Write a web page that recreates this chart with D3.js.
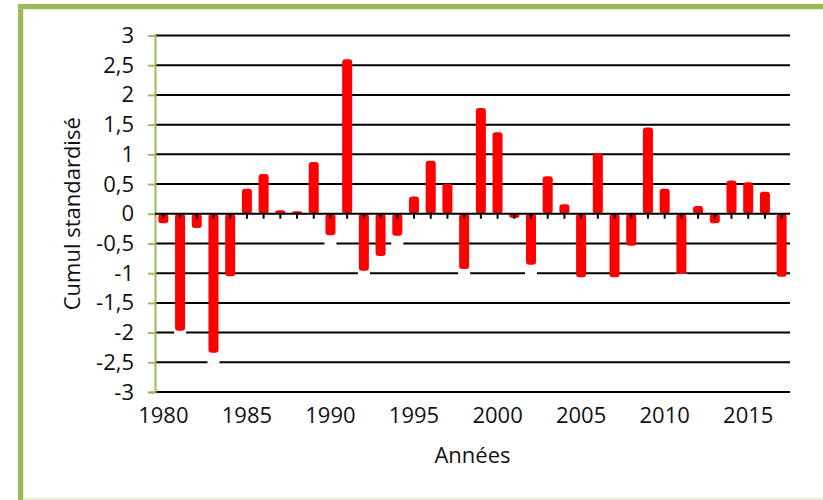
<!DOCTYPE html>
<html>
<head>
<meta charset="utf-8">
<script src="https://cdn.jsdelivr.net/npm/d3@7"></script>
<style>
  body { margin: 0; background: #fff; }
  svg { display: block; font-family: "Open Sans", sans-serif; }
  .lbl { fill: #111; font-size: 22px; }
</style>
</head>
<body>
<div id="chart"></div>
<script>
// data
var years = [1980, 1981, 1982, 1983, 1984, 1985, 1986, 1987, 1988, 1989,
             1990, 1991, 1992, 1993, 1994, 1995, 1996, 1997, 1998, 1999,
             2000, 2001, 2002, 2003, 2004, 2005, 2006, 2007, 2008, 2009,
             2010, 2011, 2012, 2013, 2014, 2015, 2016, 2017];
var values = [-0.16, -1.97, -0.24, -2.34, -1.05, 0.42, 0.67, 0.06, 0.04, 0.87,
              -0.36, 2.60, -0.96, -0.71, -0.37, 0.29, 0.89, 0.51, -0.93, 1.78,
              1.37, -0.07, -0.86, 0.63, 0.16, -1.07, 1.02, -1.07, -0.54, 1.45,
              0.42, -1.01, 0.13, -0.16, 0.56, 0.53, 0.37, -1.06];
var yTicks = [-3, -2.5, -2, -1.5, -1, -0.5, 0, 0.5, 1, 1.5, 2, 2.5, 3];
var xLabels = [1980, 1985, 1990, 1995, 2000, 2005, 2010, 2015];

var W = 823, H = 500;
var green = "#9bbb59";
var plot = {left: 155, right: 790, top: 35.5, bottom: 392};

var data = years.map(function(y, i) { return {year: y, value: values[i]}; });

var svg = d3.select("#chart").append("svg")
    .attr("width", W)
    .attr("height", H);

// frame
svg.append("rect").attr("x", 0).attr("y", 0).attr("width", W).attr("height", H).attr("fill", "#fff");
svg.append("path")
    .attr("d", "M20.5," + H + "V6.5H" + W)
    .attr("fill", "none").attr("stroke", green).attr("stroke-width", 5);
svg.append("path")
    .attr("d", "M23.5," + H + "V9.5H" + W)
    .attr("fill", "none").attr("stroke", "#e6eed6").attr("stroke-width", 1);
svg.append("line")
    .attr("x1", 23).attr("x2", W).attr("y1", 499).attr("y2", 499)
    .attr("stroke", "#e6eed6").attr("stroke-width", 2);

var x = d3.scaleBand()
    .domain(years)
    .range([plot.left, plot.right])
    .paddingInner(0.4)
    .paddingOuter(0.2);

var y = d3.scaleLinear()
    .domain([-3, 3])
    .range([plot.bottom, plot.top]);

function cx(yr) { return x(yr) + x.bandwidth() / 2; }

// gridlines
svg.append("g").selectAll("line")
    .data(yTicks.filter(function(d) { return d !== 0; }))
  .enter().append("line")
    .attr("x1", plot.left).attr("x2", plot.right)
    .attr("y1", function(d) { return y(d); })
    .attr("y2", function(d) { return y(d); })
    .attr("stroke", "#000").attr("stroke-width", 2);

// white reflection under the tips of negative bars
svg.append("g").selectAll("rect")
    .data(data.filter(function(d) { return d.value < 0; }))
  .enter().append("rect")
    .attr("x", function(d) { return x(d.year) - 1; })
    .attr("width", x.bandwidth() + 2)
    .attr("y", function(d) { return y(d.value); })
    .attr("height", 11)
    .attr("fill", "#fff");

// bars
svg.append("g").selectAll("rect")
    .data(data)
  .enter().append("rect")
    .attr("x", function(d) { return x(d.year); })
    .attr("width", x.bandwidth())
    .attr("y", function(d) { return y(Math.max(0, d.value)); })
    .attr("height", function(d) { return Math.abs(y(d.value) - y(0)); })
    .attr("rx", 3)
    .attr("fill", "#ff0000");

// y axis (green)
var yAxis = svg.append("g")
    .attr("transform", "translate(" + plot.left + ",0)")
    .call(d3.axisLeft(y).tickValues(yTicks).tickSize(7).tickPadding(14)
      .tickFormat(function(d) { return String(d).replace(".", ","); }));
yAxis.attr("font-family", null).attr("font-size", null);
yAxis.select(".domain").attr("stroke", green).attr("stroke-width", 2);
yAxis.selectAll(".tick line").attr("stroke", green).attr("stroke-width", 2);
yAxis.selectAll(".tick text")
    .attr("class", "lbl")
    .attr("fill", null);

// zero axis with ticks at each year
var zero = svg.append("g").attr("transform", "translate(0," + y(0) + ")");
zero.append("line")
    .attr("x1", plot.left).attr("x2", plot.right)
    .attr("stroke", "#000").attr("stroke-width", 2);
zero.selectAll(".tk")
    .data(years)
  .enter().append("line")
    .attr("class", "tk")
    .attr("x1", cx).attr("x2", cx)
    .attr("y1", 0).attr("y2", 5)
    .attr("stroke", "#000").attr("stroke-width", 2);

// year labels along the bottom
svg.append("g").selectAll("text")
    .data(xLabels)
  .enter().append("text")
    .attr("class", "lbl")
    .attr("x", cx)
    .attr("y", 423)
    .attr("text-anchor", "middle")
    .text(function(d) { return d; });

// axis titles
svg.append("text")
    .attr("class", "lbl")
    .attr("x", (plot.left + plot.right) / 2)
    .attr("y", 463)
    .attr("text-anchor", "middle")
    .text("Années");

svg.append("text")
    .attr("class", "lbl")
    .attr("transform", "translate(80," + y(0) + ") rotate(-90)")
    .attr("text-anchor", "middle")
    .text("Cumul standardisé");
</script>
</body>
</html>
